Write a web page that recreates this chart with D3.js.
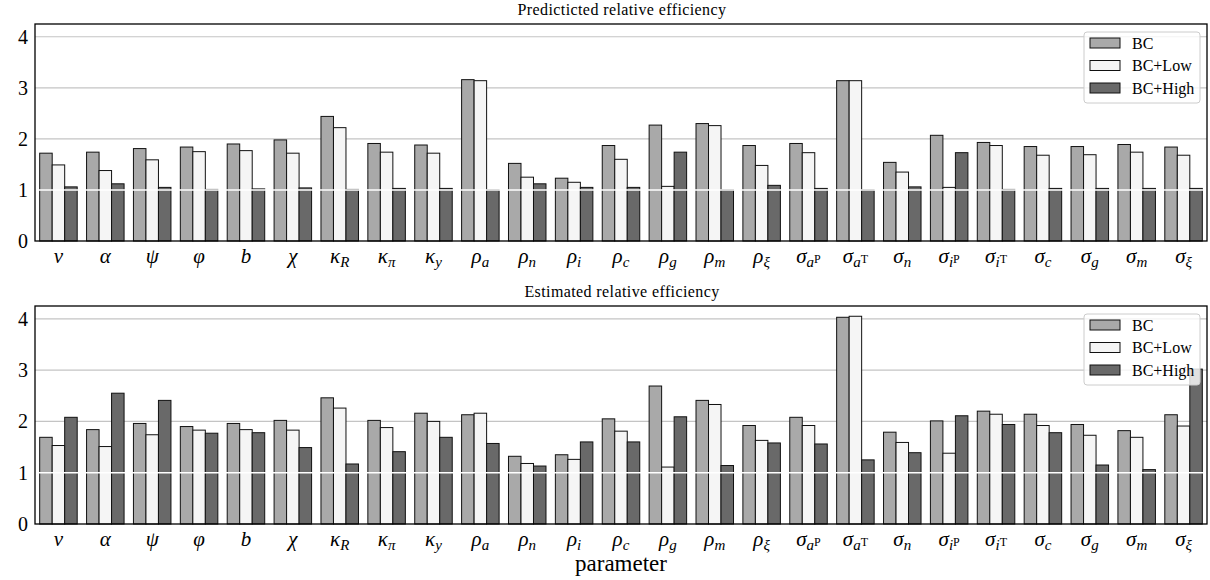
<html>
<head>
<script src="https://d3js.org/d3.v7.min.js"></script>
<style>
body { margin: 0; background: #fff; }
text { font-family: "Liberation Serif", "DejaVu Serif", serif; }
</style>
</head>
<body>
<script>
// parameter labels: [symbol, subscript, superscript on subscript]
var paramLabels = [
  ["ν"], ["α"], ["ψ"], ["φ"], ["b"], ["χ"],
  ["κ", "R"], ["κ", "π"], ["κ", "y"],
  ["ρ", "a"], ["ρ", "n"], ["ρ", "i"], ["ρ", "c"], ["ρ", "g"], ["ρ", "m"], ["ρ", "ξ"],
  ["σ", "a", "P"], ["σ", "a", "T"], ["σ", "n"], ["σ", "i", "P"], ["σ", "i", "T"],
  ["σ", "c"], ["σ", "g"], ["σ", "m"], ["σ", "ξ"]
];
var seriesNames = ["BC", "BC+Low", "BC+High"];
var seriesColors = ["#a9a9a9", "#f5f5f5", "#696969"];
var yTicks = [0, 1, 2, 3, 4];

// predicted relative efficiency
var bcPred   = [1.72,1.74,1.81,1.84,1.90,1.98,2.44,1.91,1.88,3.16,1.52,1.23,1.87,2.27,2.30,1.87,1.91,3.14,1.54,2.07,1.93,1.85,1.85,1.89,1.84];
var lowPred  = [1.49,1.38,1.59,1.75,1.77,1.72,2.22,1.74,1.72,3.14,1.25,1.15,1.60,1.07,2.26,1.48,1.73,3.14,1.35,1.05,1.87,1.68,1.69,1.74,1.68];
var highPred = [1.06,1.12,1.05,1.01,1.02,1.04,1.01,1.03,1.03,1.00,1.12,1.05,1.05,1.74,1.00,1.09,1.03,1.00,1.06,1.73,1.01,1.03,1.03,1.03,1.03];

// estimated relative efficiency
var bcEst    = [1.69,1.84,1.96,1.90,1.96,2.02,2.46,2.02,2.16,2.13,1.32,1.35,2.05,2.69,2.41,1.92,2.08,4.03,1.79,2.01,2.20,2.14,1.94,1.82,2.13];
var lowEst   = [1.53,1.51,1.74,1.83,1.84,1.83,2.26,1.88,2.00,2.16,1.18,1.26,1.81,1.11,2.33,1.63,1.92,4.05,1.59,1.38,2.14,1.92,1.73,1.69,1.91];
var highEst  = [2.08,2.55,2.41,1.77,1.78,1.49,1.17,1.41,1.69,1.57,1.13,1.60,1.60,2.09,1.14,1.58,1.56,1.25,1.39,2.11,1.94,1.78,1.15,1.06,3.02];

var W = 1210, H = 580;
var svg = d3.select("body").append("svg").attr("width", W).attr("height", H);

var left = 35, right = 1207;
var x0 = d3.scaleBand().domain(d3.range(paramLabels.length)).range([left, right]).paddingInner(0.2).paddingOuter(0.1);
var x1 = d3.scaleBand().domain(d3.range(3)).range([0, x0.bandwidth()]);

function drawPanel(top, bottom, title, series) {
  var y = d3.scaleLinear().domain([0, 4.25]).range([bottom, top]);
  var g = svg.append("g");

  // grid
  g.selectAll("line.grid").data(yTicks.filter(d => d > 1)).enter()
    .append("line")
    .attr("x1", left).attr("x2", right)
    .attr("y1", d => y(d)).attr("y2", d => y(d))
    .style("stroke", "#c4c4c4").style("stroke-width", 1.2);

  var groups = g.selectAll("g.grp").data(paramLabels).enter()
    .append("g")
    .attr("transform", (d, i) => "translate(" + x0(i) + ",0)");
  groups.selectAll("rect").data((d, i) => series.map((s, k) => ({k: k, v: s[i]}))).enter()
    .append("rect")
    .attr("x", d => x1(d.k))
    .attr("width", x1.bandwidth())
    .attr("y", d => y(d.v))
    .attr("height", d => y(0) - y(d.v))
    .style("fill", d => seriesColors[d.k])
    .style("stroke", "#111").style("stroke-width", 1);

  // white reference line at 1
  g.append("line")
    .attr("x1", left).attr("x2", right)
    .attr("y1", y(1)).attr("y2", y(1))
    .style("stroke", "#fff").style("stroke-width", 1.5);

  // frame
  g.append("rect")
    .attr("x", left).attr("y", top)
    .attr("width", right - left).attr("height", bottom - top)
    .style("fill", "none").style("stroke", "#000").style("stroke-width", 1.3);

  // y tick labels
  g.selectAll("text.yt").data(yTicks).enter()
    .append("text")
    .attr("x", left - 7).attr("y", d => y(d) + 7)
    .attr("text-anchor", "end")
    .style("font-size", "20px")
    .text(d => d);

  // x tick labels
  var labs = g.selectAll("text.xt").data(paramLabels).enter()
    .append("text")
    .attr("x", (d, i) => x0(i) + x0.bandwidth() / 2)
    .attr("y", bottom + 22)
    .attr("text-anchor", "middle")
    .style("font-size", "21px")
    .style("font-style", "italic");
  labs.each(function(d) {
    var t = d3.select(this);
    t.append("tspan").text(d[0]);
    if (d[1]) t.append("tspan").attr("dy", 4).style("font-size", "15px").text(d[1]);
    if (d[2]) t.append("tspan").attr("dy", -4).style("font-size", "12px").style("font-style", "normal").text(d[2]);
  });

  // title
  g.append("text")
    .attr("x", (left + right) / 2 + 1).attr("y", top - 9)
    .attr("text-anchor", "middle")
    .style("font-size", "16px")
    .style("letter-spacing", "0.4px")
    .text(title);

  // legend
  var lx = 1084, ly = top + 8;
  var leg = g.append("g").attr("transform", "translate(" + lx + "," + ly + ")");
  leg.append("rect")
    .attr("width", 116).attr("height", 71).attr("rx", 3)
    .style("fill", "#fff").style("fill-opacity", 0.8)
    .style("stroke", "#ccc").style("stroke-width", 1);
  var items = leg.selectAll("g").data(seriesNames).enter()
    .append("g")
    .attr("transform", (d, i) => "translate(6," + (6 + i * 22.5) + ")");
  items.append("rect")
    .attr("width", 30).attr("height", 10)
    .style("fill", (d, i) => seriesColors[i])
    .style("stroke", "#111").style("stroke-width", 1);
  items.append("text")
    .attr("x", 42).attr("y", 10.5)
    .style("font-size", "16px")
    .text(d => d);
}

drawPanel(24, 241, "Predicticted relative efficiency", [bcPred, lowPred, highPred]);
drawPanel(306, 524, "Estimated relative efficiency", [bcEst, lowEst, highEst]);

svg.append("text")
  .attr("x", (left + right) / 2).attr("y", 571)
  .attr("text-anchor", "middle")
  .style("font-size", "23px")
  .text("parameter");
</script>
</body>
</html>
